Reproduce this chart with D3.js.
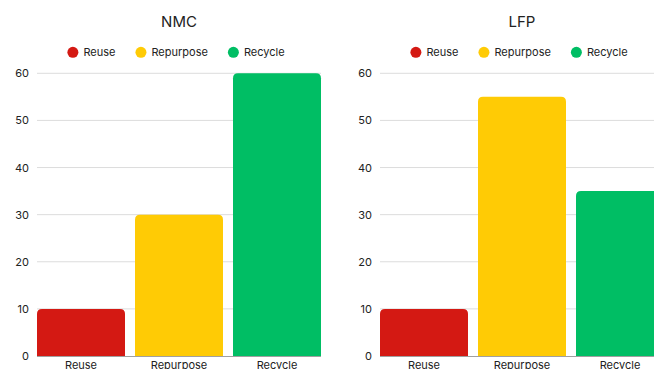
<!DOCTYPE html>
<html>
<head>
<meta charset="utf-8">
<script src="https://cdn.jsdelivr.net/npm/d3@7"></script>
<style>
  html, body { margin: 0; padding: 0; background: #fff; overflow: hidden; }
  svg { display: block; font-family: Inter, "Noto Sans", sans-serif; }
</style>
</head>
<body>
<svg id="chart" width="654" height="369"></svg>
<script>
// End-of-life routes for two battery chemistries (share, %)
const categories = ["Reuse", "Repurpose", "Recycle"];
const nmcValues = [10, 30, 60];
const lfpValues = [10, 55, 35];
const yTicks = [0, 10, 20, 30, 40, 50, 60];
const colors = ["#d41913", "#ffcb05", "#00be64"];

const panels = [
  { title: "NMC", values: nmcValues, x0: 37 },
  { title: "LFP", values: lfpValues, x0: 380 }
];

const svg = d3.select("#chart");
const plotW = 284, yTop = 73.3, yBottom = 356;
const y = d3.scaleLinear().domain([0, 60]).range([yBottom, yTop]);
const color = d3.scaleOrdinal().domain(categories).range(colors);

// Bar path with rounded top corners only
function topRounded(x0, y0, w, h, r) {
  r = Math.min(r, w / 2, h);
  return `M${x0},${y0 + h}V${y0 + r}Q${x0},${y0} ${x0 + r},${y0}H${x0 + w - r}Q${x0 + w},${y0} ${x0 + w},${y0 + r}V${y0 + h}Z`;
}

panels.forEach(p => {
  const g = svg.append("g");
  const x = d3.scaleBand().domain(categories)
    .range([p.x0, p.x0 + plotW]).paddingInner(10 / 98).paddingOuter(0);
  const cx = p.x0 + plotW / 2;

  // Title
  g.append("text").attr("x", cx).attr("y", 26.5)
    .attr("text-anchor", "middle").attr("font-size", 15).attr("fill", "#222")
    .text(p.title);

  // Legend
  const legend = g.append("g").attr("transform", "translate(0,52.3)");
  const items = legend.selectAll("g").data(categories).join("g");
  items.append("circle").attr("r", 5.5).attr("fill", d => color(d));
  items.append("text").attr("x", 10.5).attr("dy", "0.35em")
    .attr("font-size", 11).attr("fill", "#222").text(d => d);
  let offs = 0;
  const widths = [];
  items.each(function () {
    const w = this.getBBox().width;
    widths.push(w);
  });
  const total = d3.sum(widths) + 20 * (categories.length - 1);
  let start = cx - total / 2 - 3 + 5.5;
  items.attr("transform", (d, i) => {
    const t = `translate(${start + offs},0)`;
    offs += widths[i] + 20;
    return t;
  });

  // Gridlines
  g.append("g").selectAll("line").data(yTicks.filter(t => t > 0)).join("line")
    .attr("x1", p.x0).attr("x2", p.x0 + plotW)
    .attr("y1", d => y(d)).attr("y2", d => y(d))
    .attr("stroke", "#dcdcdc").attr("stroke-width", 1);

  // Y axis labels
  const yAxis = g.append("g").attr("transform", `translate(${p.x0 - 8},0)`)
    .call(d3.axisLeft(y).tickValues(yTicks).tickSize(0).tickPadding(0));
  yAxis.select(".domain").remove();
  yAxis.selectAll("text").attr("font-size", 11).attr("fill", "#222")
    .attr("font-family", "Inter, 'Noto Sans', sans-serif");

  // Bars
  g.append("g").selectAll("path").data(categories).join("path")
    .attr("fill", d => color(d))
    .attr("d", (d, i) => topRounded(x(d), y(p.values[i]), x.bandwidth(), y(0) - y(p.values[i]), 5));

  // Baseline
  g.append("line").attr("x1", p.x0).attr("x2", p.x0 + plotW)
    .attr("y1", y(0) + 0.5).attr("y2", y(0) + 0.5)
    .attr("stroke", "#a0a0a0").attr("stroke-width", 1);

  // Category labels
  const xAxis = g.append("g").attr("transform", `translate(0,${y(0)})`)
    .call(d3.axisBottom(x).tickSize(0).tickPadding(5));
  xAxis.select(".domain").remove();
  xAxis.selectAll("text").attr("font-size", 11).attr("fill", "#222")
    .attr("font-family", "Inter, 'Noto Sans', sans-serif");
});
</script>
</body>
</html>
